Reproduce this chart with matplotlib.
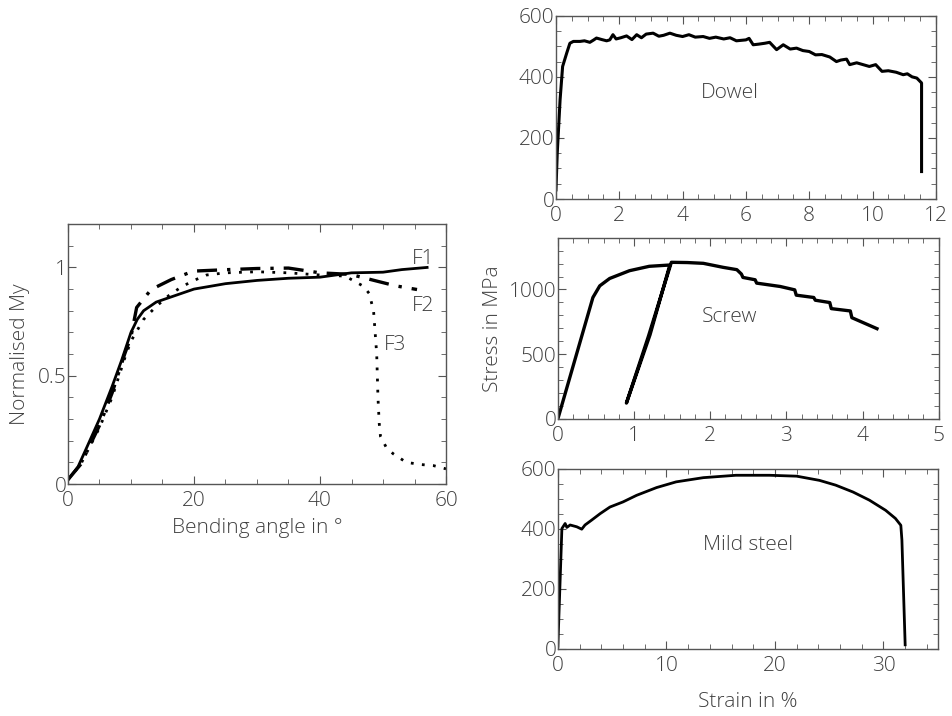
import matplotlib.pyplot as plt
from matplotlib.ticker import MultipleLocator

plt.rcParams['font.family'] = ['Open Sans', 'DejaVu Sans']
plt.rcParams['font.weight'] = 'light'
plt.rcParams['axes.labelweight'] = 'light'

# bending test, normalised moment vs. angle
f1_x = [0, 1.6, 3, 5, 7, 8.5, 10, 11, 12, 14, 17, 20, 25, 30, 35, 40, 45, 50, 53, 57]
f1_y = [0.02, 0.08, 0.17, 0.30, 0.45, 0.57, 0.70, 0.76, 0.80, 0.84, 0.87, 0.90,
        0.925, 0.94, 0.95, 0.955, 0.975, 0.978, 0.99, 1.0]
f2_x = [0, 2, 5, 7, 9, 10, 10.9, 13.2, 16.4, 19.9, 25.5, 30, 35, 40, 44.8, 49, 52, 55.4]
f2_y = [0.02, 0.09, 0.27, 0.42, 0.60, 0.68, 0.815, 0.898, 0.944, 0.983, 0.99, 0.995,
        0.997, 0.975, 0.968, 0.937, 0.915, 0.898]
f3_x = [0, 2, 5, 7, 9, 10, 12, 14, 16, 18, 20, 22, 25, 30, 35, 40, 44, 46.9, 47.8,
        48.5, 49.0, 49.2, 49.4, 49.6, 50.5, 51.6, 53.7, 56, 58, 60]
f3_y = [0.02, 0.09, 0.26, 0.40, 0.58, 0.66, 0.76, 0.82, 0.87, 0.91, 0.94, 0.965, 0.975,
        0.98, 0.975, 0.965, 0.96, 0.913, 0.88, 0.80, 0.60, 0.40, 0.28, 0.22, 0.17,
        0.14, 0.10, 0.09, 0.085, 0.07]

# dowel tensile test
dowel_x = [0, 0.04, 0.13, 0.21, 0.34, 0.44, 0.55, 0.76, 0.9, 1.07, 1.18, 1.28, 1.45,
           1.6, 1.7, 1.8, 1.9, 2.05, 2.23, 2.4, 2.55, 2.7, 2.85, 3.07, 3.25, 3.4, 3.6,
           3.8, 4.0, 4.2, 4.4, 4.65, 4.85, 5.05, 5.3, 5.5, 5.7, 6.0, 6.1, 6.23, 6.4,
           6.6, 6.75, 6.97, 7.18, 7.4, 7.6, 7.8, 8.0, 8.2, 8.4, 8.65, 8.86, 9.0, 9.18,
           9.28, 9.5, 9.7, 9.9, 10.1, 10.3, 10.5, 10.75, 10.97, 11.1, 11.25, 11.4,
           11.55, 11.55]
dowel_y = [30, 150, 325, 434, 478, 510, 516, 516, 518, 513, 520, 527, 522, 518, 521,
           538, 524, 528, 534, 522, 538, 528, 540, 543, 533, 536, 543, 536, 532, 538,
           530, 532, 526, 530, 524, 528, 518, 521, 526, 505, 507, 510, 513, 489, 505,
           491, 494, 486, 483, 472, 473, 465, 450, 455, 458, 440, 446, 440, 434, 440,
           418, 420, 415, 407, 410, 400, 396, 380, 90]

# screw tensile test with unloading loop
screw_x = [0, 0.46, 0.55, 0.68, 0.94, 1.2, 1.47, 1.21, 0.9, 1.19, 1.49, 1.7, 1.91,
           2.17, 2.35, 2.41, 2.43, 2.59, 2.61, 2.92, 3.11, 3.13, 3.36, 3.38, 3.57,
           3.59, 3.84, 3.86, 4.19]
screw_y = [0, 938, 1028, 1085, 1145, 1179, 1189, 650, 122, 640, 1210, 1208, 1202,
           1171, 1153, 1119, 1093, 1075, 1049, 1023, 997, 956, 938, 917, 899, 852,
           834, 782, 697]

# mild steel tensile test
mild_x = [0, 0.37, 0.67, 0.83, 1.13, 1.74, 2.2, 2.5, 3.1, 3.9, 4.8, 6.0, 7.25, 9.1,
          10.9, 13.4, 16.4, 19.5, 22, 24.1, 25.6, 27.2, 28.7, 30.2, 31.1, 31.6, 31.7,
          32.0]
mild_y = [8, 401, 418, 405, 413, 407, 399, 413, 429, 451, 473, 490, 512, 538, 557,
          571, 579, 579, 576, 562, 546, 523, 496, 462, 435, 412, 363, 13]

TXT = '#404040'
FS = 15


def style(ax, xmaj, xmin, ymaj, ymin):
    ax.xaxis.set_major_locator(MultipleLocator(xmaj))
    ax.xaxis.set_minor_locator(MultipleLocator(xmin))
    ax.yaxis.set_major_locator(MultipleLocator(ymaj))
    ax.yaxis.set_minor_locator(MultipleLocator(ymin))
    ax.tick_params(which='both', direction='in', top=True, right=True,
                   colors='#555555', labelcolor=TXT, labelsize=FS)
    ax.tick_params(axis='x', pad=5)
    ax.tick_params(axis='y', pad=1)
    ax.tick_params(which='major', length=6)
    ax.tick_params(which='minor', length=3.5)
    for s in ax.spines.values():
        s.set_color('#555555')
        s.set_linewidth(1.0)


fig = plt.figure(figsize=(9.52, 7.16), dpi=100)

ax0 = fig.add_axes([0.0714, 0.324, 0.3971, 0.363])
ax0.plot(f1_x, f1_y, color='black', lw=2)
ax0.plot(f2_x, f2_y, color='black', lw=2.4, linestyle=(0, (6, 3, 1, 3)))
ax0.plot(f3_x, f3_y, color='black', lw=2, linestyle=(0, (1, 3)))
ax0.text(56.3, 1.04, 'F1', fontsize=FS, color=TXT, ha='center', va='center')
ax0.text(56.3, 0.82, 'F2', fontsize=FS, color=TXT, ha='center', va='center')
ax0.text(51.9, 0.64, 'F3', fontsize=FS, color=TXT, ha='center', va='center')
ax0.set_xlim(0, 60)
ax0.set_ylim(0, 1.2)
style(ax0, 20, 5, 0.5, 0.1)
ax0.set_yticks([0, 0.5, 1])
ax0.set_yticklabels(['0', '0.5', '1'])
ax0.set_xlabel('Bending angle in °', fontsize=FS, color=TXT, labelpad=5)
ax0.set_ylabel('Normalised My', fontsize=FS, color=TXT, labelpad=6)

ax1 = fig.add_axes([0.584, 0.722, 0.399, 0.256])
ax1.plot(dowel_x, dowel_y, color='black', lw=2.2)
ax1.text(5.5, 348, 'Dowel', fontsize=FS, color=TXT, ha='center', va='center')
ax1.set_xlim(0, 12)
ax1.set_ylim(0, 600)
style(ax1, 2, 0.5, 200, 50)

ax2 = fig.add_axes([0.586, 0.415, 0.4, 0.253])
ax2.plot(screw_x, screw_y, color='black', lw=2.4)
ax2.text(2.26, 790, 'Screw', fontsize=FS, color=TXT, ha='center', va='center')
ax2.set_xlim(0, 5)
ax2.set_ylim(0, 1400)
style(ax2, 1, 0.2, 500, 100)
ax2.set_ylabel('Stress in MPa', fontsize=FS, color=TXT, labelpad=4)

ax3 = fig.add_axes([0.586, 0.094, 0.399, 0.251])
ax3.plot(mild_x, mild_y, color='black', lw=2)
ax3.text(17.5, 347, 'Mild steel', fontsize=FS, color=TXT, ha='center', va='center')
ax3.set_xlim(0, 35)
ax3.set_ylim(0, 600)
style(ax3, 10, 2, 200, 50)
ax3.set_xlabel('Strain in %', fontsize=FS, color=TXT, labelpad=12)

fig.savefig('out.png', dpi=100)
